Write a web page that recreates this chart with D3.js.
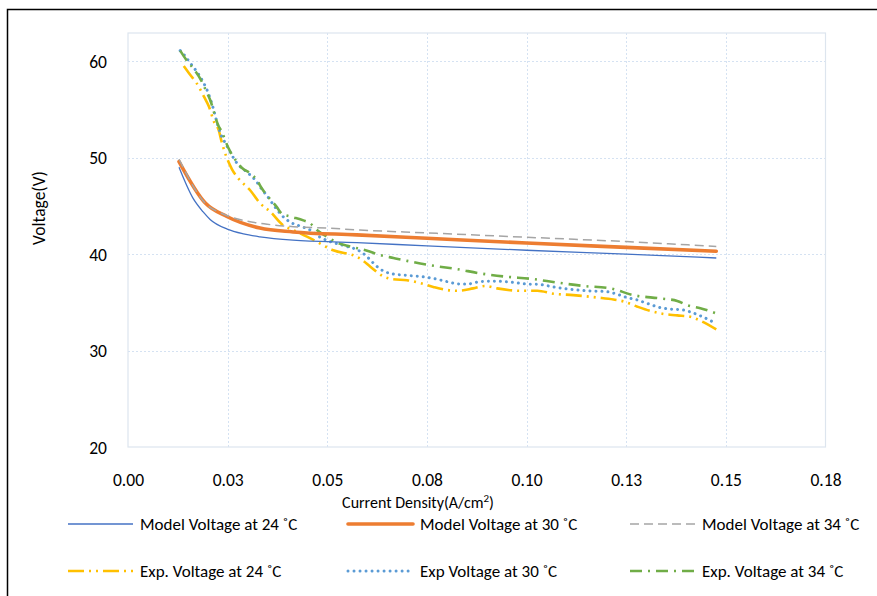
<!DOCTYPE html>
<html>
<meta charset="utf-8">
<title>Voltage vs Current Density</title>
<style>
  body { margin: 0; background: #fff; }
  text { font-family: Carlito, Calibri, Lato, sans-serif; fill: #000; }
</style>
<body>
<div id="chart"></div>
<script src="https://d3js.org/d3.v7.min.js"></script>
<script>
// ticks
var xTicks = [0, 0.025, 0.05, 0.075, 0.1, 0.125, 0.15, 0.175];
var xTickLabels = ["0.00", "0.03", "0.05", "0.08", "0.10", "0.13", "0.15", "0.18"];
var yTicks = [20, 30, 40, 50, 60];

// model curves
var xModel24 = [0.0128, 0.0163, 0.0188, 0.0206, 0.0249, 0.0290, 0.0331, 0.0414, 0.0574, 0.0750, 0.1000, 0.1250, 0.1476];
var yModel24 = [49.0, 45.8, 44.4, 43.6, 42.6, 42.1, 41.8, 41.45, 41.2, 40.85, 40.4, 40.0, 39.6];

var xModel30 = [0.0128, 0.0194, 0.0248, 0.0331, 0.0414, 0.0574, 0.0750, 0.1000, 0.1250, 0.1476];
var yModel30 = [49.6, 45.3, 43.9, 42.7, 42.3, 42.0, 41.65, 41.15, 40.7, 40.3];

var xModel34 = [0.0128, 0.0198, 0.0231, 0.0289, 0.0349, 0.0415, 0.0499, 0.0582, 0.0750, 0.1000, 0.1250, 0.1476];
var yModel34 = [49.85, 45.1, 44.3, 43.5, 43.1, 42.85, 42.7, 42.5, 42.2, 41.75, 41.3, 40.8];

// experimental curves
var xExp24 = [0.0140, 0.0156, 0.0171, 0.0191, 0.0203, 0.0216, 0.0228, 0.0234, 0.0241, 0.0261, 0.0276, 0.0306,
  0.0331, 0.0357, 0.0389, 0.0414, 0.0464, 0.0515, 0.0575, 0.0587, 0.0608, 0.0640, 0.0665, 0.0700, 0.0733,
  0.0766, 0.0791, 0.0826, 0.0866, 0.0896, 0.0926, 0.0984, 0.1027, 0.1067, 0.1117, 0.1177, 0.1218, 0.1243,
  0.1278, 0.1311, 0.1343, 0.1378, 0.1411, 0.1436, 0.1476];
var yExp24 = [59.5, 58.6, 57.8, 56.3, 55.3, 53.7, 52.8, 51.8, 50.8, 48.8, 47.9, 46.65,
  45.3, 44.4, 43.0, 42.5, 41.5, 40.4, 39.7, 39.4, 38.7, 37.7, 37.4, 37.3, 37.0,
  36.6, 36.35, 36.2, 36.45, 36.7, 36.45, 36.2, 36.2, 35.9, 35.75, 35.5, 35.3, 35.1,
  34.55, 34.1, 33.8, 33.65, 33.5, 33.1, 32.2];

var xExp30 = [0.0131, 0.0141, 0.0160, 0.0178, 0.0204, 0.0214, 0.0221, 0.0235, 0.0243, 0.0275, 0.0300, 0.0321,
  0.0336, 0.0348, 0.0365, 0.0394, 0.0408, 0.0432, 0.0457, 0.0482, 0.0507, 0.0549, 0.0582, 0.0595, 0.0608,
  0.0616, 0.0628, 0.0641, 0.0658, 0.0700, 0.0741, 0.0775, 0.0800, 0.0834, 0.0851, 0.0884, 0.0917, 0.0959,
  0.1001, 0.1034, 0.1067, 0.1110, 0.1152, 0.1202, 0.1223, 0.1252, 0.1277, 0.1302, 0.1336, 0.1361, 0.1394,
  0.1411, 0.1436, 0.1476];
var yExp30 = [61.1, 60.65, 59.6, 58.6, 56.4, 55.1, 54.0, 52.2, 51.6, 49.35, 48.45, 47.6,
  46.7, 46.1, 45.1, 43.7, 43.3, 42.9, 42.5, 41.75, 41.3, 40.8, 40.3, 39.9, 39.4,
  39.05, 38.6, 38.25, 38.0, 37.8, 37.65, 37.4, 37.15, 36.9, 36.9, 37.15, 37.2, 37.1,
  36.9, 36.85, 36.6, 36.35, 36.2, 36.1, 35.9, 35.5, 35.25, 34.9, 34.45, 34.3, 34.2,
  34.0, 33.6, 32.8];

var xExp34 = [0.0131, 0.0148, 0.0157, 0.0185, 0.0193, 0.0206, 0.0226, 0.0235, 0.0252, 0.0269, 0.0287, 0.0306,
  0.0323, 0.0336, 0.0373, 0.0386, 0.0407, 0.0440, 0.0457, 0.0474, 0.0499, 0.0524, 0.0557, 0.0600, 0.0633,
  0.0666, 0.0700, 0.0758, 0.0825, 0.0884, 0.0951, 0.1009, 0.1077, 0.1142, 0.1210, 0.1268, 0.1336, 0.1378,
  0.1403, 0.1436, 0.1476];
var yExp34 = [61.1, 60.05, 59.6, 57.9, 57.2, 56.0, 53.4, 52.7, 51.0, 49.8, 48.9, 48.4,
  47.7, 46.8, 44.9, 44.2, 43.9, 43.5, 43.2, 42.5, 41.8, 41.2, 40.8, 40.35, 39.9,
  39.6, 39.3, 38.85, 38.45, 38.0, 37.65, 37.45, 37.05, 36.7, 36.45, 35.75, 35.4, 35.15,
  34.7, 34.4, 33.85];

var seriesNames = ["Model Voltage at 24 \u02DAC", "Model Voltage at 30 \u02DAC", "Model Voltage at 34 \u02DAC",
  "Exp. Voltage at 24 \u02DAC", "Exp Voltage at 30 \u02DAC", "Exp. Voltage at 34 \u02DAC"];

var W = 877, H = 596;
var svg = d3.select("#chart").append("svg").attr("width", W).attr("height", H);

var x = d3.scaleLinear().domain([0, 0.175]).range([128, 825.5]);
var y = d3.scaleLinear().domain([20, 62.93]).range([447, 33]);

// outer chart border (runs off the right and bottom)
svg.append("rect")
  .attr("x", 7.5).attr("y", 9.5).attr("width", 900).attr("height", 600)
  .attr("fill", "none").attr("stroke", "#000").attr("stroke-width", 1.5);

// gridlines
svg.append("g").selectAll("line.gy").data(yTicks.slice(1)).join("line")
  .attr("x1", x(0)).attr("x2", x(0.175))
  .attr("y1", d => Math.round(y(d)) + 0.5).attr("y2", d => Math.round(y(d)) + 0.5)
  .attr("stroke", "#d5e2f2").attr("stroke-dasharray", "2 2");
svg.append("g").selectAll("line.gx").data(xTicks.slice(1, -1)).join("line")
  .attr("y1", y(20)).attr("y2", y(62.93))
  .attr("x1", d => Math.round(x(d)) + 0.5).attr("x2", d => Math.round(x(d)) + 0.5)
  .attr("stroke", "#d5e2f2").attr("stroke-dasharray", "2 2");

// plot area frame
svg.append("rect")
  .attr("x", x(0)).attr("y", y(62.93))
  .attr("width", x(0.175) - x(0)).attr("height", y(20) - y(62.93))
  .attr("fill", "none").attr("stroke", "#dde5ee").attr("stroke-width", 1.2);

// axes
var xAxis = d3.axisBottom(x).tickValues(xTicks).tickSize(0)
  .tickFormat((d, i) => xTickLabels[i]);
var gx = svg.append("g").attr("transform", "translate(0,447)").call(xAxis);
gx.select(".domain").remove();
gx.selectAll("text").attr("dy", 0).attr("y", 39).style("font-size", "17.5px");

var yAxis = d3.axisLeft(y).tickValues(yTicks).tickSize(0);
var gy = svg.append("g").attr("transform", "translate(128,0)").call(yAxis);
gy.select(".domain").remove();
gy.selectAll("text").attr("x", -21).attr("dy", "0.35em").style("font-size", "17.5px");

// axis titles
var xt = svg.append("text").attr("x", 418).attr("y", 508).attr("text-anchor", "middle")
  .style("font-size", "16px");
xt.append("tspan").text("Current Density(A/cm");
xt.append("tspan").attr("dy", -6).style("font-size", "11px").text("2");
xt.append("tspan").attr("dy", 6).text(")");

svg.append("text").attr("transform", "translate(45,208) rotate(-90)")
  .attr("text-anchor", "middle").style("font-size", "17.5px").text("Voltage(V)");

// series styles
var series = [
  { name: seriesNames[0], xs: xModel24, ys: yModel24, color: "#4472C4", width: 1.3, dash: null, cap: "butt" },
  { name: seriesNames[1], xs: xModel30, ys: yModel30, color: "#ED7D31", width: 3.6, dash: null, cap: "round" },
  { name: seriesNames[2], xs: xModel34, ys: yModel34, color: "#A5A5A5", width: 1.5, dash: "9 5", cap: "butt" },
  { name: seriesNames[3], xs: xExp24, ys: yExp24, color: "#FFC000", width: 2.6, dash: "16 5 2 5 2 5", cap: "butt" },
  { name: seriesNames[4], xs: xExp30, ys: yExp30, color: "#5B9BD5", width: 3, dash: "0.01 6", cap: "round" },
  { name: seriesNames[5], xs: xExp34, ys: yExp34, color: "#70AD47", width: 2.6, dash: "12 6 2 6", cap: "butt" }
];

var line = d3.line().x(d => x(d[0])).y(d => y(d[1])).curve(d3.curveMonotoneX);

// experimental first, model lines on top
var drawOrder = [3, 4, 5, 0, 1, 2];
drawOrder.forEach(function (i) {
  var s = series[i];
  svg.append("path")
    .datum(d3.zip(s.xs, s.ys))
    .attr("d", line)
    .attr("fill", "none")
    .attr("stroke", s.color)
    .attr("stroke-width", s.width)
    .attr("stroke-linecap", s.cap)
    .attr("stroke-dasharray", s.dash);
});

// legend
var legX = [68, 348, 630];
var legY = [524, 571];
series.forEach(function (s, i) {
  var lx = legX[i % 3], ly = legY[Math.floor(i / 3)];
  svg.append("line")
    .attr("x1", lx).attr("x2", lx + 65).attr("y1", ly).attr("y2", ly)
    .attr("stroke", s.color).attr("stroke-width", s.width)
    .attr("stroke-linecap", s.cap).attr("stroke-dasharray", s.dash);
  svg.append("text").attr("x", lx + 72).attr("y", ly).attr("dy", "0.35em")
    .style("font-size", "17px").text(s.name);
});
</script>
</body>
</html>
